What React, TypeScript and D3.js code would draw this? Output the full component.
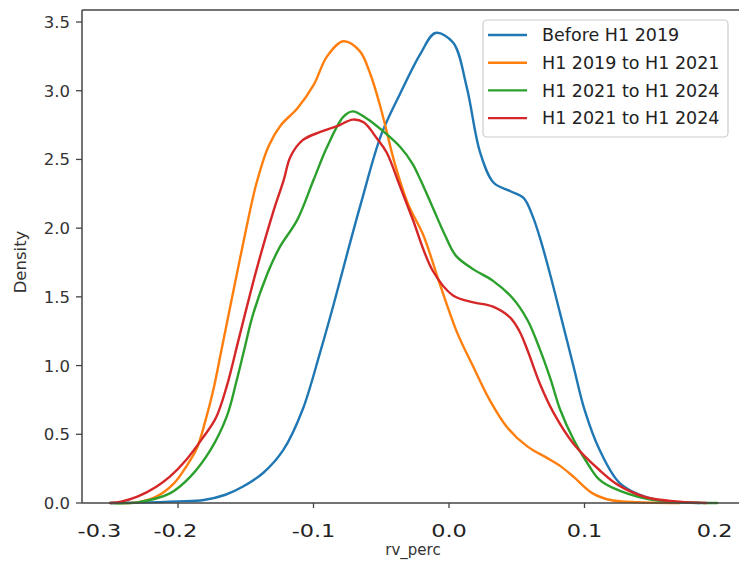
import React from "react";
import * as d3 from "d3";

const seriesNames = ["Before H1 2019", "H1 2019 to H1 2021", "H1 2021 to H1 2024", "H1 2021 to H1 2024"];
const seriesColors = ["#1f77b4", "#ff7f0e", "#2ca02c", "#d62728"];

const blueX = [-0.25, -0.23, -0.2, -0.181, -0.165, -0.152, -0.137, -0.122, -0.108, -0.095, -0.085, -0.075, -0.065, -0.05, -0.036, -0.021, -0.01, 0.003, 0.013, 0.023, 0.033, 0.045, 0.055, 0.062, 0.068, 0.075, 0.082, 0.092, 0.1, 0.111, 0.126, 0.146, 0.163, 0.185];
const blueY = [0, 0.003, 0.012, 0.022, 0.06, 0.12, 0.22, 0.39, 0.68, 1.1, 1.45, 1.82, 2.18, 2.68, 2.98, 3.27, 3.42, 3.35, 3.03, 2.55, 2.33, 2.27, 2.22, 2.08, 1.9, 1.65, 1.38, 0.99, 0.68, 0.39, 0.145, 0.04, 0.01, 0];

const orangeX = [-0.245, -0.23, -0.216, -0.203, -0.194, -0.186, -0.18, -0.174, -0.168, -0.16, -0.15, -0.142, -0.133, -0.124, -0.112, -0.1, -0.09, -0.078, -0.066, -0.058, -0.05, -0.04, -0.03, -0.019, -0.007, 0.006, 0.018, 0.03, 0.043, 0.058, 0.072, 0.082, 0.092, 0.106, 0.12, 0.14, 0.17];
const orangeY = [0, 0.005, 0.046, 0.143, 0.264, 0.4, 0.59, 0.82, 1.11, 1.5, 1.98, 2.33, 2.6, 2.75, 2.87, 3.04, 3.25, 3.36, 3.29, 3.12, 2.86, 2.47, 2.17, 1.95, 1.6, 1.24, 0.99, 0.75, 0.55, 0.41, 0.33, 0.27, 0.19, 0.07, 0.02, 0.005, 0];

const greenX = [-0.25, -0.23, -0.206, -0.191, -0.176, -0.164, -0.157, -0.151, -0.145, -0.134, -0.125, -0.112, -0.1, -0.09, -0.078, -0.071, -0.061, -0.048, -0.036, -0.027, -0.021, -0.012, -0.003, 0.005, 0.018, 0.032, 0.047, 0.058, 0.067, 0.075, 0.082, 0.092, 0.104, 0.111, 0.121, 0.146, 0.17, 0.198];
const greenY = [0, 0.005, 0.07, 0.19, 0.386, 0.63, 0.88, 1.12, 1.36, 1.67, 1.86, 2.06, 2.35, 2.59, 2.81, 2.85, 2.8, 2.7, 2.59, 2.47, 2.35, 2.15, 1.95, 1.8, 1.7, 1.62, 1.49, 1.33, 1.12, 0.9, 0.68, 0.46, 0.26, 0.17, 0.11, 0.03, 0.005, 0];

const redX = [-0.25, -0.242, -0.23, -0.216, -0.206, -0.194, -0.182, -0.172, -0.164, -0.155, -0.142, -0.13, -0.122, -0.117, -0.108, -0.095, -0.083, -0.071, -0.063, -0.053, -0.046, -0.036, -0.027, -0.012, 0.003, 0.018, 0.032, 0.045, 0.052, 0.058, 0.067, 0.077, 0.092, 0.111, 0.125, 0.146, 0.17, 0.19];
const redY = [0, 0.01, 0.046, 0.119, 0.192, 0.313, 0.47, 0.62, 0.85, 1.2, 1.7, 2.11, 2.35, 2.52, 2.64, 2.7, 2.74, 2.79, 2.77, 2.65, 2.55, 2.3, 2.07, 1.69, 1.51, 1.46, 1.43, 1.35, 1.25, 1.11, 0.87, 0.66, 0.43, 0.24, 0.13, 0.04, 0.01, 0];

const yTicks = [0, 0.5, 1.0, 1.5, 2.0, 2.5, 3.0, 3.5];
const xTickMarks = [-0.2, -0.1, 0.0, 0.1];
const xTickLabels = ["-0.3", "-0.2", "-0.1", "0.0", "0.1", "0.2"];
const xTickLabelAt = [-0.258, -0.202, -0.1, 0.0, 0.1, 0.196];

const xLabel = "rv_perc";
const yLabel = "Density";

export default function App() {
  const W = 739, H = 561;
  const left = 82, top = 10, bottom = 503, right = 740;
  const x = d3.scaleLinear().domain([-0.3, 0.2]).range([42.5, 720]);
  const y = d3.scaleLinear().domain([0, 3.5]).range([bottom, 22]);

  const xs = [blueX, orangeX, greenX, redX];
  const ys = [blueY, orangeY, greenY, redY];
  const line = d3
    .line<[number, number]>()
    .x((d) => x(d[0]))
    .y((d) => Math.min(bottom, y(d[1])))
    .curve(d3.curveCatmullRom.alpha(0.5));

  const font = "DejaVu Sans, sans-serif";

  return (
    <svg width={W} height={H} style={{ position: "absolute", left: 0, top: 0, background: "#fff" }}>
      <rect x={0} y={0} width={W} height={H} fill="#fff" />
      {xs.map((xa, i) => (
        <path
          key={i}
          d={line(xa.map((v, j) => [v, ys[i][j]] as [number, number])) || ""}
          fill="none"
          stroke={seriesColors[i]}
          strokeWidth={2.4}
          strokeLinejoin="round"
          strokeLinecap="round"
        />
      ))}
      {/* spines */}
      <line x1={left} x2={left} y1={top} y2={bottom} stroke="#444" strokeWidth={1.5} />
      <line x1={left} x2={right} y1={bottom} y2={bottom} stroke="#444" strokeWidth={1.5} />
      <line x1={left} x2={right} y1={top} y2={top} stroke="#444" strokeWidth={1.5} />
      {/* y ticks */}
      {yTicks.map((t) => (
        <g key={t}>
          <line x1={left - 6} x2={left} y1={y(t)} y2={y(t)} stroke="#444" strokeWidth={1.3} />
          <text x={left - 12} y={y(t)} dy="0.36em" textAnchor="end" fontFamily={font} fontSize={16.5} fill="#333">
            {t.toFixed(1)}
          </text>
        </g>
      ))}
      {/* x ticks */}
      {xTickMarks.map((t) => (
        <line key={t} x1={x(t)} x2={x(t)} y1={bottom} y2={bottom + 5} stroke="#444" strokeWidth={1.3} />
      ))}
      {xTickLabels.map((lab, i) => (
        <text
          key={lab}
          transform={`translate(${x(xTickLabelAt[i])},537) scale(1.28,1)`}
          textAnchor="middle"
          fontFamily={font}
          fontSize={17.5}
          fill="#222"
        >
          {lab}
        </text>
      ))}
      <text x={413} y={555} textAnchor="middle" fontFamily={font} fontSize={15} fill="#333">
        {xLabel}
      </text>
      <text transform={`translate(26,262) rotate(-90)`} textAnchor="middle" fontFamily={font} fontSize={16.5} fill="#333">
        {yLabel}
      </text>
      {/* legend */}
      <rect x={483} y={20} width={245} height={117} rx={4} fill="#fff" fillOpacity={0.85} stroke="#ccc" strokeWidth={1.2} />
      {seriesNames.map((n, i) => (
        <g key={i} transform={`translate(0,${35 + i * 27.7})`}>
          <line x1={488} x2={527} y1={0} y2={0} stroke={seriesColors[i]} strokeWidth={2.4} />
          <text x={542} y={0} dy="0.36em" fontFamily={font} fontSize={17.5} fill="#222">
            {n}
          </text>
        </g>
      ))}
    </svg>
  );
}
